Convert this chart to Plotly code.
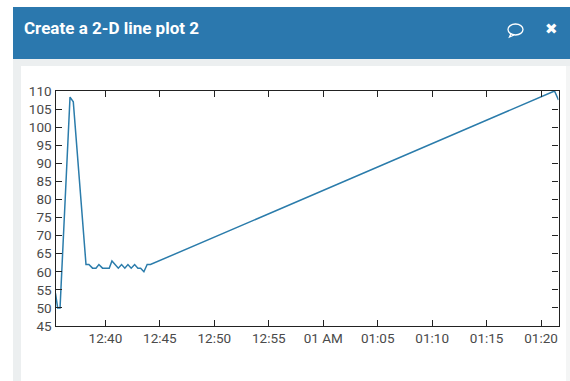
import plotly.graph_objects as go

W, H = 570, 381
title = "Create a 2-D line plot 2"
times_early = ["12:35:25", "12:35:37", "12:35:50", "12:36:45", "12:37:03"]
values_early = [54, 50, 50, 108.3, 107]
times_mid = ["12:38:13", "12:38:29", "12:38:49", "12:39:08", "12:39:24", "12:39:44", "12:40:21", "12:40:36",
             "12:41:11", "12:41:29", "12:41:47", "12:42:04", "12:42:22", "12:42:41", "12:42:59", "12:43:14",
             "12:43:32", "12:43:50", "12:44:08"]
values_mid = [62, 62, 61, 61, 62, 61, 61, 63, 61, 62, 61, 62, 61, 62, 61, 61, 60, 62, 62]
times_late = ["01:21:14", "01:21:36"]
values_late = [110, 107.5]

x_ticks = ["12:40", "12:45", "12:50", "12:55", "13:00", "13:05", "13:10", "13:15", "13:20"]
x_labels = ["12:40", "12:45", "12:50", "12:55", "01 AM", "01:05", "01:10", "01:15", "01:20"]
y_ticks = list(range(45, 111, 5))

def stamp(t):
    return f"2020-01-01 {t}"

late_24 = ["13" + t[2:] for t in times_late]
xs = [stamp(t) for t in times_early + times_mid + late_24]
ys = values_early + values_mid + values_late

def px(x): return x / W
def py(y): return 1 - y / H

def rect(x0, y0, x1, y1, color):
    return dict(type="rect", xref="paper", yref="paper", x0=px(x0), x1=px(x1), y0=py(y0), y1=py(y1),
                fillcolor=color, line_width=0, layer="below")

shapes = [
    rect(13, 7, 570, 59, "#2b78ae"),
    rect(13, 59, 570, 66, "#eceff0"),
    rect(13, 66, 21, 381, "#eceff0"),
    rect(566, 66, 570, 381, "#f4f5f5"),
    dict(type="circle", xref="paper", yref="paper", x0=px(508), x1=px(523), y0=py(35), y1=py(24),
         line=dict(color="white", width=1.3), fillcolor="rgba(0,0,0,0)"),
    dict(type="path", xref="paper", yref="paper",
         path=f"M {px(511)} {py(33.5)} L {px(509.5)} {py(37)} L {px(514)} {py(35)}",
         line=dict(color="white", width=1.3)),
]

fig = go.Figure(go.Scatter(x=xs, y=ys, mode="lines", line=dict(color="#2b7cab", width=1.5),
                           hoverinfo="skip"))
axis_font = dict(family="Roboto, sans-serif", size=13.5, color="#4a4a4a")
fig.update_layout(
    width=W, height=H, margin=dict(l=0, r=0, t=0, b=0, autoexpand=False), autosize=False,
    paper_bgcolor="white", plot_bgcolor="white", showlegend=False, shapes=shapes,
    xaxis=dict(domain=[55.5 / W, 558.5 / W], type="date", automargin=False,
               range=["2020-01-01 12:35:25", "2020-01-01 13:21:36"],
               tickmode="array", tickvals=[stamp(t) for t in x_ticks], ticktext=x_labels,
               ticks="inside", ticklen=6, tickcolor="#222222", tickwidth=1.2, showgrid=False, zeroline=False,
               showline=True, linecolor="#222222", linewidth=1.4, mirror="ticks", tickfont=axis_font),
    yaxis=dict(domain=[1 - 326 / H, 1 - 91 / H], range=[45, 110], automargin=False,
               tickmode="array", tickvals=y_ticks,
               ticks="inside", ticklen=6, tickcolor="#222222", tickwidth=1.2, showgrid=False, zeroline=False,
               showline=True, linecolor="#222222", linewidth=1.4, mirror="ticks", tickfont=axis_font),
    annotations=[
        dict(text=f"<b>{title}</b>", xref="paper", yref="paper", x=px(22), y=py(28), xanchor="left",
             yanchor="middle", showarrow=False, font=dict(family="Roboto, sans-serif", size=17, color="white")),
        dict(text="✖", xref="paper", yref="paper", x=px(551), y=py(29), xanchor="center", yanchor="middle",
             showarrow=False, font=dict(family="DejaVu Sans", size=15, color="white")),
    ],
)
fig.write_html("out.html", config=dict(displayModeBar=False),
               post_script="document.body.style.margin='0';")
